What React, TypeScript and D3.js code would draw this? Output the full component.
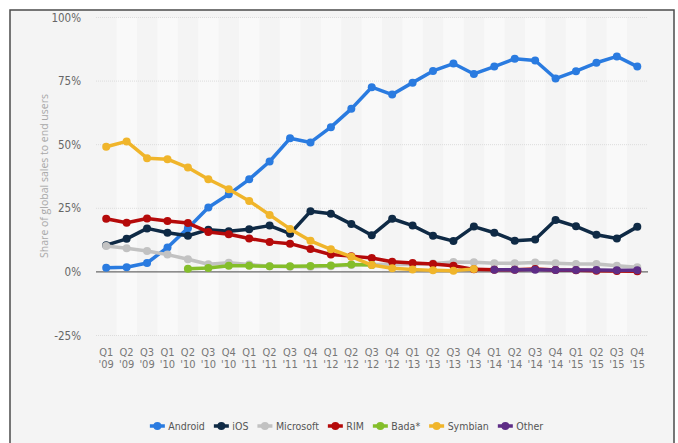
import React, { useMemo } from "react";
import * as d3 from "d3";

const quarters = ["Q1","Q2","Q3","Q1","Q2","Q3","Q4","Q1","Q2","Q3","Q4","Q1","Q2","Q3","Q4","Q1","Q2","Q3","Q4","Q1","Q2","Q3","Q4","Q1","Q2","Q3","Q4"];
const years = ["'09","'09","'09","'10","'10","'10","'10","'11","'11","'11","'11","'12","'12","'12","'12","'13","'13","'13","'13","'14","'14","'14","'14","'15","'15","'15","'15"];

const android = [1.6, 1.8, 3.5, 9.6, 17.2, 25.3, 30.5, 36.4, 43.4, 52.5, 50.9, 56.9, 64.1, 72.6, 69.7, 74.4, 79.0, 81.9, 77.8, 80.7, 83.8, 83.1, 76.0, 78.9, 82.2, 84.7, 80.7];
const ios = [10.5, 13.0, 17.1, 15.4, 14.2, 16.6, 16.0, 16.8, 18.2, 15.0, 23.8, 22.9, 18.8, 14.4, 20.9, 18.2, 14.2, 12.1, 17.8, 15.4, 12.2, 12.7, 20.4, 17.9, 14.6, 13.1, 17.7];
const microsoft = [10.2, 9.3, 8.2, 6.8, 5.0, 3.0, 3.6, 2.9, 2.2, 2.0, 2.0, 2.2, 2.7, 2.9, 3.0, 2.9, 3.3, 3.9, 3.8, 3.4, 3.4, 3.7, 3.4, 3.1, 3.1, 2.4, 1.8];
const rim = [20.9, 19.3, 21.0, 20.0, 19.2, 15.7, 14.8, 13.1, 11.8, 11.1, 9.0, 6.8, 6.2, 5.5, 4.0, 3.5, 3.1, 2.4, 1.0, 0.8, 0.8, 1.1, 0.7, 0.6, 0.5, 0.4, 0.3];
const bada = [null, null, null, null, 1.2, 1.5, 2.4, 2.4, 2.2, 2.2, 2.3, 2.5, 2.9, 2.7, null, null, null, null, null, null, null, null, null, null, null, null, null];
const symbian = [49.2, 51.3, 44.7, 44.3, 41.0, 36.4, 32.5, 27.9, 22.4, 16.9, 12.2, 8.9, 6.0, 2.7, 1.4, 0.9, 0.6, 0.5, 1.1, null, null, null, null, null, null, null, null];
const other = [null, null, null, null, null, null, null, null, null, null, null, null, null, null, null, null, null, null, null, 0.8, 0.8, 0.8, 0.7, 0.7, 0.7, 0.6, 0.6];

const seriesNames = ["Android", "iOS", "Microsoft", "RIM", "Bada*", "Symbian", "Other"];
const seriesColors = ["#2a7be0", "#0f2a45", "#c2c2c2", "#b50a0a", "#84be2a", "#f0b52b", "#5e2d86"];
const seriesValues = [android, ios, microsoft, rim, bada, symbian, other];

const yTicks = [-25, 0, 25, 50, 75, 100];
const yTitle = "Share of global sales to end users";

const W = 678;
const H = 443;
const condensed = "'Liberation Sans Narrow', 'DejaVu Sans Condensed', 'Roboto Condensed', 'Arial Narrow', sans-serif";

export default function App() {
  const cats = quarters.map((q, i) => i);
  const x = d3.scaleBand<number>().domain(cats).range([96, 647.5]).padding(0);
  const y = d3.scaleLinear().domain([-25, 100]).range([335.5, 17.5]);
  const cx = (i: number) => (x(i) as number) + x.bandwidth() / 2;

  const line = d3
    .line<number | null>()
    .defined((d) => d !== null && d !== undefined)
    .x((_, i) => cx(i))
    .y((d) => y(d as number));

  const legendFont = 10.5;
  const legendLayout = useMemo(() => {
    const canvas = document.createElement("canvas");
    const ctx = canvas.getContext("2d")!;
    ctx.font = `${legendFont}px ${condensed}`;
    const markerW = 15;
    const gapText = 3.5;
    const gapItem = 9;
    const widths = seriesNames.map((n) => ctx.measureText(n).width);
    const total = widths.reduce((a, w) => a + markerW + gapText + w, 0) + gapItem * (seriesNames.length - 1);
    let start = 346.5 - total / 2;
    return seriesNames.map((n, i) => {
      const item = { x: start, tx: start + markerW + gapText };
      start += markerW + gapText + widths[i] + gapItem;
      return item;
    });
  }, []);

  return (
    <svg
      width={W}
      height={H}
      style={{ position: "absolute", left: 0, top: 0, display: "block" }}
    >
      <rect x={0} y={0} width={W} height={H} fill="#ffffff" />
      <rect x={10} y={10} width={664} height={440} fill="#f4f4f4" stroke="#4b4b4b" strokeWidth={1.5} />
      {cats.map((i) =>
        i % 2 === 1 ? (
          <rect key={"b" + i} x={x(i)} y={y(100)} width={x.bandwidth()} height={y(-25) - y(100)} fill="#f9f9f9" />
        ) : null
      )}
      {yTicks.map((t) =>
        t === 0 ? null : (
          <line
            key={"g" + t}
            x1={96}
            x2={648}
            y1={y(t)}
            y2={y(t)}
            stroke="#dcdcdc"
            strokeWidth={1}
            strokeDasharray="1,1"
          />
        )
      )}
      <line x1={96} x2={648} y1={y(0)} y2={y(0)} stroke="#6a6a6a" strokeWidth={1.2} />
      {yTicks.map((t) => (
        <text
          key={"yl" + t}
          x={81}
          y={y(t)}
          dy="0.35em"
          textAnchor="end"
          fontFamily={condensed}
          fontSize={11.5}
          fill="#666"
        >
          {t + "%"}
        </text>
      ))}
      <text
        transform={`translate(48,${176}) rotate(-90)`}
        textAnchor="middle"
        fontFamily="'Open Sans', 'DejaVu Sans', sans-serif"
        fontSize={10.5}
        fill="#a8a8a8"
      >
        {yTitle}
      </text>
      {cats.map((i) => (
        <g key={"xl" + i} fontFamily={condensed} fontSize={11} fill="#777" textAnchor="middle">
          <text x={cx(i)} y={355.5}>{quarters[i]}</text>
          <text x={cx(i)} y={367.5}>{years[i]}</text>
        </g>
      ))}
      {seriesValues.map((vals, s) => (
        <g key={"s" + s}>
          <path d={line(vals as (number | null)[]) || ""} fill="none" stroke={seriesColors[s]} strokeWidth={3.5} strokeLinejoin="round" />
          {vals.map((v, i) =>
            v === null || v === undefined ? null : (
              <circle key={i} cx={cx(i)} cy={y(v)} r={4} fill={seriesColors[s]} />
            )
          )}
        </g>
      ))}
      {seriesNames.map((n, i) => (
        <g key={"lg" + i}>
          <line
            x1={legendLayout[i].x}
            x2={legendLayout[i].x + 15}
            y1={426}
            y2={426}
            stroke={seriesColors[i]}
            strokeWidth={3.5}
          />
          <circle cx={legendLayout[i].x + 7.5} cy={426} r={4} fill={seriesColors[i]} />
          <text
            x={legendLayout[i].tx}
            y={426}
            dy="0.35em"
            fontFamily={condensed}
            fontSize={legendFont}
            fill="#555"
          >
            {n}
          </text>
        </g>
      ))}
    </svg>
  );
}
